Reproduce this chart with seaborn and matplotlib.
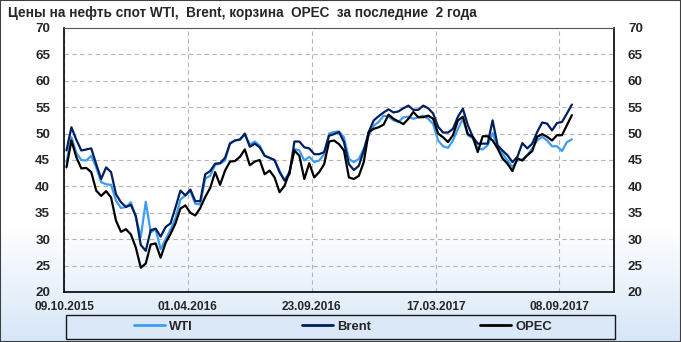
import numpy as np
import pandas as pd
import matplotlib
matplotlib.use("Agg")
import matplotlib.pyplot as plt
import seaborn as sns
from matplotlib.patches import Rectangle
from matplotlib.lines import Line2D

# ---------------- data (weekly, from 09.10.2015) ----------------
wti = [44.6, 49.3, 46.3, 45.0, 44.9, 45.8, 43.6, 40.8, 40.4, 40.3,
       37.3, 35.9, 36.1, 37.0, 34.1, 30.4, 37.1, 31.3, 31.9, 28.1,
       30.0, 31.8, 34.0, 37.5, 38.3, 39.1, 36.7, 36.6, 41.5, 42.0,
       44.1, 44.3, 44.9, 48.2, 48.7, 48.8, 49.8, 47.9, 48.5, 47.7,
       45.8, 45.4, 44.9, 43.0, 41.2, 42.7, 47.1, 46.8, 44.9, 45.6,
       44.6, 44.9, 46.1, 50.0, 50.3, 50.4, 49.3, 45.2, 44.6, 45.2,
       47.1, 49.6, 51.5, 52.2, 53.4, 53.2, 52.5, 52.2, 53.1, 53.2,
       52.8, 53.1, 53.4, 52.8, 51.8, 48.7, 47.6, 47.3, 48.7, 50.9,
       52.8, 49.7, 49.1, 47.2, 47.0, 47.8, 50.1, 47.5, 46.2, 44.9,
       43.7, 44.9, 45.1, 45.9, 47.2, 48.7, 49.4, 48.7, 47.6, 47.6,
       46.7, 48.4, 48.9]
brent = [46.8, 51.2, 48.8, 46.8, 47.0, 47.2, 44.2, 41.4, 43.6, 42.7,
         38.5, 37.0, 36.1, 36.5, 34.4, 28.9, 27.8, 31.7, 32.0, 30.5,
         32.3, 33.0, 36.0, 39.2, 38.3, 39.4, 37.2, 37.2, 42.3, 42.9,
         44.3, 44.4, 45.4, 48.1, 48.7, 48.9, 50.0, 47.5, 48.1, 47.4,
         45.8, 45.4, 45.0, 42.7, 41.1, 42.3, 48.5, 48.5, 47.4, 47.2,
         46.1, 46.1, 46.5, 49.6, 49.9, 50.3, 48.4, 44.2, 43.1, 43.9,
         46.8, 50.3, 52.5, 53.3, 54.0, 54.6, 54.0, 54.2, 54.8, 55.3,
         54.5, 54.5, 55.3, 54.8, 53.8, 51.3, 50.2, 50.2, 50.9, 53.2,
         54.7, 51.6, 49.4, 48.1, 48.1, 48.1, 52.5, 47.8, 46.8, 45.9,
         44.6, 45.6, 48.2, 47.2, 48.1, 50.3, 52.1, 51.9, 50.6, 52.0,
         52.2, 53.8, 55.5]
opec = [43.6, 48.7, 45.5, 43.4, 43.5, 42.7, 39.2, 38.2, 39.1, 37.9,
        33.5, 31.4, 31.9, 30.9, 28.4, 24.6, 25.4, 29.0, 29.2, 26.5,
        29.3, 31.0, 33.0, 35.8, 36.4, 35.0, 34.5, 35.9, 38.0, 39.7,
        42.7, 40.3, 43.0, 44.7, 44.8, 45.6, 47.0, 44.0, 44.7, 45.0,
        42.3, 43.0, 41.7, 38.9, 40.1, 42.7, 46.8, 45.8, 41.4, 44.4,
        41.7, 42.7, 44.2, 48.5, 48.7, 48.0, 46.8, 41.7, 41.4, 42.0,
        44.6, 50.3, 50.9, 51.2, 51.7, 53.6, 52.8, 52.3, 51.8, 52.8,
        54.1, 53.1, 53.1, 53.4, 52.8, 50.0, 49.3, 48.4, 49.7, 52.5,
        53.2, 49.9, 49.4, 46.5, 49.5, 49.5, 48.7, 47.2, 45.3, 44.3,
        42.9, 45.3, 44.9, 45.9, 46.7, 49.4, 49.9, 49.4, 48.7, 49.7,
        49.7, 51.6, 53.5]
series_names = ["WTI", "Brent", "OPEC"]
x_tick_labels = ["09.10.2015", "01.04.2016", "23.09.2016", "17.03.2017", "08.09.2017"]
y_tick_values = [20, 25, 30, 35, 40, 45, 50, 55, 60, 65, 70]
title = "Цены на нефть спот WTI,  Brent, корзина  OPEC  за последние  2 года"

# ---------------- style ----------------
sns.set_style("white")
plt.rcParams['font.family'] = ['Liberation Sans', 'DejaVu Sans']

colors = {"WTI": "#3d9cf2", "Brent": "#001f5c", "OPEC": "#000000"}

n = len(brent)
week = np.arange(n)
df = pd.DataFrame({
    "week": np.tile(week, 3),
    "price": wti + brent + opec,
    "series": np.repeat(series_names, n),
})

W, H = 681, 342
fig = plt.figure(figsize=(W / 100, H / 100), dpi=100)

# background gradient (white at top -> light blue at bottom)
bg = fig.add_axes([0, 0, 1, 1], zorder=-10)
rows = np.linspace(0, 1, H)
t = np.clip((rows - 0.66) / 0.34, 0, 1)[:, None]
top_c = np.array([1.0, 1.0, 1.0])
bot_c = np.array([0.84, 0.905, 0.97])
grad = (1 - t)[:, :, None] * top_c + t[:, :, None] * bot_c
grad = np.repeat(grad, 4, axis=1)
bg.imshow(grad, aspect='auto', extent=[0, 1, 0, 1], origin='upper')
bg.set_axis_off()

ax = fig.add_axes([64 / W, 50 / H, 550 / W, 264 / H])
ax.set_facecolor('none')

sns.lineplot(data=df, x="week", y="price", hue="series", palette=colors,
             hue_order=series_names, linewidth=1.6, ax=ax, legend=False)

ax.set_xlim(-0.5, 110.5)
ax.set_ylim(20, 70)
ax.set_xticks([-0.5 + 25 * k for k in range(len(x_tick_labels))])
ax.set_xticklabels(x_tick_labels, fontsize=8.6, fontweight='bold')
ax.set_yticks(y_tick_values)
ax.set_yticklabels([str(v) for v in y_tick_values], fontsize=9.6, fontweight='bold')
ax.tick_params(axis='y', length=0, pad=10, labelright=True)
ax.tick_params(axis='x', length=0, pad=6.5)
for lbl in ax.get_yticklabels():
    lbl.set_y(lbl.get_position()[1])
ax.set_xlabel("")
ax.set_ylabel("")
ax.grid(True, color='#b5b5b5', linestyle=(0, (4, 3)), linewidth=0.8)

for side in ['left', 'right', 'bottom']:
    ax.spines[side].set_color('black')
    ax.spines[side].set_linewidth(1.2)
ax.spines['top'].set_color('#555555')
ax.spines['top'].set_linewidth(0.8)

fig.text(8 / W, 1 - 13 / H, title, fontsize=9.8, fontweight='bold',
         ha='left', va='center')

# legend box
fig.patches.append(Rectangle((66 / W, (H - 338.5) / H), (615 - 66) / W, 24 / H,
                             transform=fig.transFigure, facecolor='#dbe8f7',
                             edgecolor='#1a1a1a', linewidth=1.0, zorder=0))
handles = [Line2D([0], [0], color=colors[s], linewidth=2.0) for s in series_names]
fig.legend(handles, series_names, loc='center', bbox_to_anchor=(343 / W, 1 - 326.5 / H),
           ncol=3, frameon=False, handlelength=2.35, handletextpad=0.3,
           columnspacing=8.4, prop={'weight': 'bold', 'size': 9.4})

# outer border
fig.patches.append(Rectangle((0, 0), 1, 1, transform=fig.transFigure, fill=False,
                             edgecolor='#404040', linewidth=1.5, zorder=5))

fig.savefig("out.png", dpi=100)
